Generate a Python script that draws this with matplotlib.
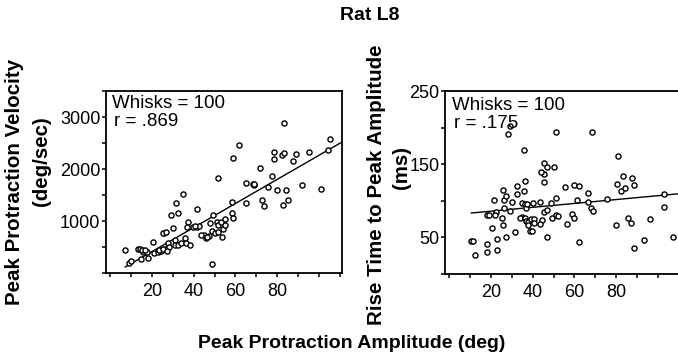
import matplotlib
matplotlib.use("Agg")
import matplotlib.pyplot as plt
import numpy as np

# ---------------- data ----------------
title = "Rat L8"
xlabel = "Peak Protraction Amplitude (deg)"
left_ylabel = ["Peak Protraction Velocity", "(deg/sec)"]
right_ylabel = ["Rise Time to Peak Amplitude", "(ms)"]
left_note = ["Whisks = 100", "r = .869"]
right_note = ["Whisks = 100", "r = .175"]

x_tick_values = [20, 40, 60, 80]
left_y_tick_values = [1000, 2000, 3000]
right_y_tick_values = [50, 150, 250]

# Left panel: amplitude (deg) vs peak protraction velocity (deg/sec)
left_x = [6.9, 8.8, 10.1, 13.2, 14.4, 15.9, 17.5, 14.8, 18.0, 20.3, 21.2, 22.8,
          24.4, 26.0, 26.3, 27.6, 28.2, 29.1, 30.3, 31.6, 32.7, 31.1, 30.8, 32.7,
          34.0, 35.1, 35.9, 36.2, 37.2, 36.7, 38.3, 41.5, 41.5, 42.3, 44.7, 45.8,
          47.1, 47.9, 48.6, 48.6, 49.4, 50.2, 51.0, 51.8, 53.1, 53.7, 54.2, 55.0,
          51.8, 55.0, 58.2, 58.5, 59.0, 51.8, 58.7, 61.9, 65.1, 65.1, 68.3, 71.8,
          72.9, 73.8, 75.4, 77.4, 78.5, 78.5, 79.7, 82.1, 82.9, 83.3, 84.1, 85.3,
          83.3, 87.7, 88.8, 91.7, 95.4, 100.8, 104.5, 105.3,
          25.5, 26.5, 15.0, 16.5, 23.5, 25.5, 27.0, 39.5, 40.5, 43.5, 46.5, 69.0, 68.8]
left_y = [442, 200, 232, 455, 455, 410, 410, 276, 288, 603, 391, 410,
          429, 776, 455, 570, 494, 1115, 872, 1340, 1160, 635, 538, 538,
          583, 1513, 667, 570, 974, 878, 538, 1224, 891, 904, 731, 667,
          712, 955, 173, 814, 1115, 763, 987, 923, 987, 686, 840, 923,
          795, 1032, 1160, 1372, 1051, 1820, 2218, 2461, 1737, 1352, 1711, 2013,
          1404, 1288, 1647, 1865, 2333, 2192, 1596, 2269, 1308, 2314, 1596, 1404,
          2878, 2154, 2282, 1692, 2333, 1609, 2365, 2577,
          770, 790, 450, 440, 445, 470, 430, 890, 900, 740, 700, 1690, 1720]

# Right panel: amplitude (deg) vs rise time to peak amplitude (ms)
right_x = [22.3, 23.1, 25.4, 25.7, 25.7, 26.2, 26.2, 27.0, 27.0, 28.9, 30.1, 31.4,
           32.5, 32.5, 34.8, 34.8, 36.1, 35.6, 36.1, 36.7, 37.2, 34.0, 36.4, 36.7,
           37.9, 39.2, 40.8, 37.9, 40.8, 38.7, 39.8, 40.3, 43.4, 44.5, 45.5, 45.5,
           44.2, 45.5, 46.6, 46.6, 48.9, 49.2, 51.2, 51.2, 52.0, 55.5, 56.4, 58.6,
           59.6, 59.9, 61.1, 62.2, 62.2, 66.6, 67.7, 43.4,
           10.3, 11.3, 12.4, 18.1, 18.1, 18.1, 19.2, 20.3, 21.5, 22.0, 22.8,
           28.1, 29.3, 35.6, 45.5, 46.6, 50.2, 51.3, 68.2, 66.6, 68.8,
           75.5, 79.7, 80.2, 81.0, 82.2, 83.3, 84.1, 85.4, 87.2, 87.7, 88.5, 88.5,
           93.5, 96.3, 102.9, 102.9, 107.3]
right_y = [85, 47.7, 76.6, 67.3, 115, 101, 90.5, 105.9, 50, 85.9, 98.9, 58,
           119.8, 109, 96.6, 78, 126.8, 113.8, 95.2, 89.6, 95.2, 76.6, 76.6, 72,
           71, 75.7, 75.7, 66.4, 70.1, 59.4, 59.4, 96.6, 98.9, 73.3, 125.9, 136,
           139.8, 85, 87.3, 50, 96.6, 76.6, 80.3, 104.5, 79.4, 118.4, 68.7, 82.6,
           76.6, 122.2, 101.2, 119.8, 44, 98.9, 89.6, 68.7,
           44.5, 44.5, 25.9, 40.8, 30.1, 80.4, 80.4, 63.1, 101.3, 80.4, 32.9,
           191, 202, 170, 152, 146, 146, 194, 194, 111, 86,
           103, 67, 123, 161, 113, 134, 118, 76, 70, 131, 122, 35,
           47, 75, 109, 92, 50]

# Regression lines (slope, intercept, x start)
left_fit = (23.16, -52.0, 7.2)
right_fit = (0.265, 80.5, 10.6)

# ---------------- figure ----------------
W, H = 678, 362
fig = plt.figure(figsize=(W / 100, H / 100), dpi=100, facecolor="white")
FONT = "Liberation Sans"
plt.rcParams["font.family"] = [FONT, "DejaVu Sans"]


def px_axes(x0, y0, x1, y1):
    return fig.add_axes([x0 / W, 1 - y1 / H, (x1 - x0) / W, (y1 - y0) / H])


XLIM = (-2, 111)


def style(ax, yticks_all, ylabels_vals):
    ax.set_xlim(*XLIM)
    for s in ax.spines.values():
        s.set_linewidth(1.3)
        s.set_color("black")
    xt = list(range(0, 111, 10))
    ax.set_xticks(xt)
    ax.set_xticklabels([str(v) if v in x_tick_values else "" for v in xt])
    ax.set_yticks(yticks_all)
    ax.set_yticklabels([str(v) if v in ylabels_vals else "" for v in yticks_all])
    ax.tick_params(axis="both", direction="out", length=3, width=1.1,
                   labelsize=13, colors="black")
    ax.tick_params(axis="y", pad=1)
    ax.tick_params(axis="x", pad=4)
    ax.tick_params(top=False, right=False)
    ax.set_facecolor("white")


def draw(ax, xs, ys, fit):
    slope, icpt, x0 = fit
    lx = np.array([x0, XLIM[1] + 5])
    ax.plot(lx, slope * lx + icpt, color="black", lw=1.0, zorder=2)
    ax.plot(xs, ys, linestyle="none", marker="o", ms=3.7, mfc="white",
            mec="black", mew=1.0, zorder=3)


# Left panel
axL = px_axes(106, 91, 342, 273)
draw(axL, left_x, left_y, left_fit)
axL.set_ylim(0, 3500)
style(axL, list(range(0, 3501, 500)), left_y_tick_values)

# Right panel (extends beyond right edge of figure)
axR = px_axes(445, 91, 681, 274)
draw(axR, right_x, right_y, right_fit)
axR.set_ylim(0, 250)
style(axR, list(range(0, 251, 50)), right_y_tick_values)

# Notes in axes
fig.text(112 / W, 1 - 103 / H, left_note[0], fontsize=13.5, va="center", ha="left")
fig.text(114 / W, 1 - 121 / H, left_note[1], fontsize=13.5, va="center", ha="left")
fig.text(452 / W, 1 - 105 / H, right_note[0], fontsize=13.5, va="center", ha="left")
fig.text(454 / W, 1 - 123 / H, right_note[1], fontsize=13.5, va="center", ha="left")

# Titles and labels
fig.text(370 / W, 1 - 16 / H, title, fontsize=14, fontweight="bold",
         ha="center", va="center")
fig.text(352 / W, 1 - 343 / H, xlabel, fontsize=14, fontweight="bold",
         ha="center", va="center")
fig.text(15 / W, 1 - 182 / H, left_ylabel[0], fontsize=14.8, fontweight="bold",
         rotation=90, ha="center", va="center")
fig.text(41 / W, 1 - 161 / H, left_ylabel[1], fontsize=14.8, fontweight="bold",
         rotation=90, ha="center", va="center")
fig.text(377 / W, 1 - 185 / H, right_ylabel[0], fontsize=14.8, fontweight="bold",
         rotation=90, ha="center", va="center")
fig.text(402 / W, 1 - 168 / H, right_ylabel[1], fontsize=14.8, fontweight="bold",
         rotation=90, ha="center", va="center")

fig.savefig("out.png", dpi=100, facecolor="white")
